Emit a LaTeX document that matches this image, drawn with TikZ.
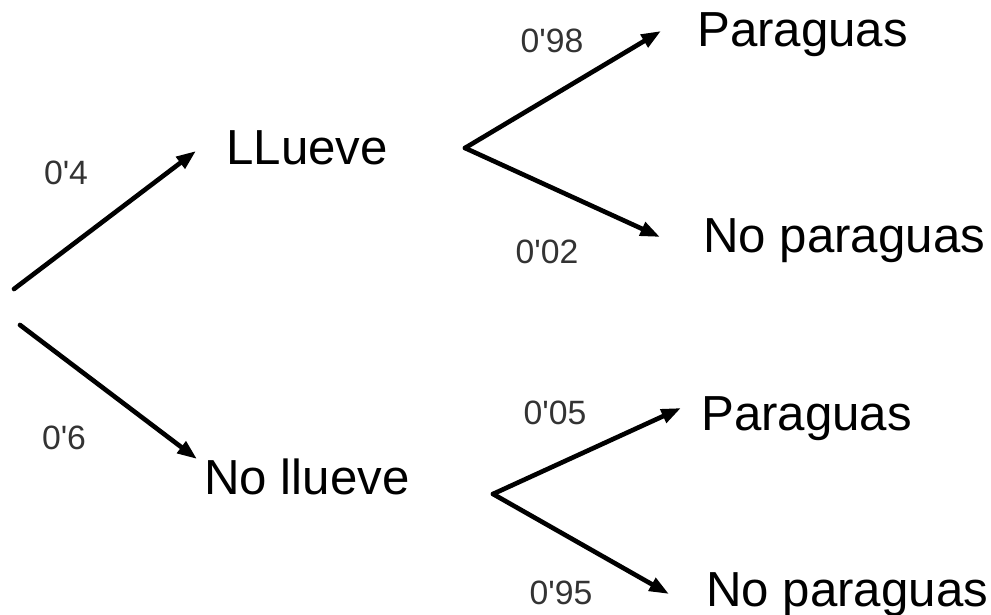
\documentclass[tikz,border=0pt]{standalone}
\usepackage{fontspec}
\setmainfont{Liberation Sans}
\newfontfamily\probfont{Liberation Sans}
\usetikzlibrary{arrows.meta}
\begin{document}
\begin{tikzpicture}[x=0.025cm,y=-0.025cm,
  branch/.style={line width=3.3pt,line cap=round,-{Triangle[length=14pt,width=10pt]}},
  big/.style={inner sep=0pt,anchor=base west,font=\fontsize{35pt}{38pt}\selectfont},
  prob/.style={inner sep=0pt,font=\probfont\fontsize{24pt}{26pt}\selectfont,text=black!80}]
\useasboundingbox (0,0) rectangle (991,615);
% origins and tips
\coordinate (r1) at (14,289);
\coordinate (r2) at (20,325);
\coordinate (t1) at (196,151);
\coordinate (t2) at (197,459);
\coordinate (o1) at (465,148);
\coordinate (o2) at (493,494);
\coordinate (u1) at (661,31);
\coordinate (d1) at (660,237);
\coordinate (u2) at (681,408);
\coordinate (d2) at (669,594);
% text
\node[big] (llueve) at (226,165) {LLueve};
\node[big] (nollueve) at (204,494) {No llueve};
\node[big] (p1) at (697,47) {Paraguas};
\node[big] (np1) at (703,253) {No paraguas};
\node[big] (p2) at (701,431) {Paraguas};
\node[big] (np2) at (706,606) {No paraguas};
\node[prob] (l4) at (66,173) {0'4};
\node[prob] (l6) at (64,438) {0'6};
\node[prob] (l98) at (552,41) {0'98};
\node[prob] (l02) at (547,252) {0'02};
\node[prob] (l05) at (555,413) {0'05};
\node[prob] (l95) at (561,593) {0'95};
% arrows
\draw[branch] (r1) -- (t1);
\draw[branch] (r2) -- (t2);
\draw[branch] (o1) -- (u1);
\draw[branch] (o1) -- (d1);
\draw[branch] (o2) -- (u2);
\draw[branch] (o2) -- (d2);
\end{tikzpicture}
\end{document}
